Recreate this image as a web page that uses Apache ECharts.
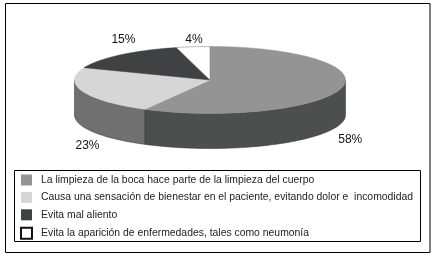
<!DOCTYPE html>
<html><head><meta charset="utf-8">
<style>html,body{margin:0;padding:0;background:#fff}#c{width:436px;height:258px}</style>
<script src="https://cdn.jsdelivr.net/npm/echarts@6/dist/echarts.min.js"></script>
</head><body><div id="c"></div>
<script>
const categories = [
  'La limpieza de la boca hace parte de la limpieza del cuerpo',
  'Causa una sensación de bienestar en el paciente, evitando dolor e  incomodidad',
  'Evita mal aliento',
  'Evita la aparición de enfermedades, tales como neumonía'
];
const values = [58, 23, 15, 4];
const topColors = ['#949494', '#d6d6d6', '#404142', '#ffffff'];
const wallColors = ['#4d4f4f', '#6f706f', '#333333', '#cccccc'];
const labelOffsets = [[9, 51], [5, 54], [3, -15], [1, -7]];

const cx = 210, cy = 80, rx = 135.5, ry = 33.5, depth = 35;
const total = values.reduce((a, b) => a + b, 0);
function pt(a, dy) {
  return [cx + rx * Math.sin(a), cy - ry * Math.cos(a) + (dy || 0)];
}
function arc(a0, a1, dy) {
  const n = Math.max(2, Math.ceil(Math.abs(a1 - a0) / 0.02)), out = [];
  for (let i = 0; i <= n; i++) out.push(pt(a0 + (a1 - a0) * i / n, dy));
  return out;
}
function makeRender(idx) {
  const before = values.slice(0, idx).reduce((a, b) => a + b, 0);
  return function (params, api) {
    const v = api.value(0);
    const a0 = before / total * 2 * Math.PI, a1 = (before + v) / total * 2 * Math.PI;
    const children = [];
    const w0 = Math.max(a0, Math.PI / 2), w1 = Math.min(a1, 3 * Math.PI / 2);
    if (w1 > w0) {
      const pts = arc(w0, w1, 0).concat(arc(w1, w0, depth));
      children.push({ type: 'polygon', shape: { points: pts },
        style: { fill: wallColors[idx], stroke: '#2a2a2a', lineWidth: 0.5 } });
    }
    children.push({ type: 'polygon', shape: { points: [[cx, cy]].concat(arc(a0, a1, 0)) },
      style: { fill: topColors[idx], stroke: topColors[idx] === '#ffffff' ? '#777777' : topColors[idx], lineWidth: 0.5 } });
    const m = pt((a0 + a1) / 2, 0), off = labelOffsets[idx];
    children.push({ type: 'text', style: {
      x: m[0] + off[0], y: m[1] + off[1], text: v + '%', fill: '#111',
      font: '12px "Liberation Sans", Arial, sans-serif', align: 'center', verticalAlign: 'middle' } });
    return { type: 'group', children };
  };
}
const option = {
  animation: false,
  backgroundColor: '#ffffff',
  graphic: [
    { type: 'rect', z: -1, shape: { x: 5.5, y: 3.5, width: 424.5, height: 249 },
      style: { fill: 'none', stroke: '#000', lineWidth: 1 } },
    { type: 'rect', z: -1, shape: { x: 14.5, y: 170.5, width: 406, height: 71 },
      style: { fill: 'none', stroke: '#000', lineWidth: 1 } }
  ],
  legend: {
    orient: 'vertical', left: 20, top: 174.5, padding: 0,
    itemWidth: 11, itemHeight: 11, itemGap: 6.4, icon: 'rect',
    data: categories,
    textStyle: { fontFamily: '"Liberation Sans", Arial, sans-serif', fontSize: 10.4, color: '#222', padding: [0, 0, 0, 4] },
    selectedMode: false
  },
  series: categories.map((name, i) => ({
    type: 'custom', name, coordinateSystem: 'none',
    itemStyle: { color: topColors[i], borderColor: i === 3 ? '#111' : topColors[i], borderWidth: i === 3 ? 0.5 : 0 },
    data: [[values[i]]],
    renderItem: makeRender(i), silent: true
  }))
};
echarts.init(document.getElementById('c'), null, { renderer: 'canvas' }).setOption(option);
</script></body></html>
